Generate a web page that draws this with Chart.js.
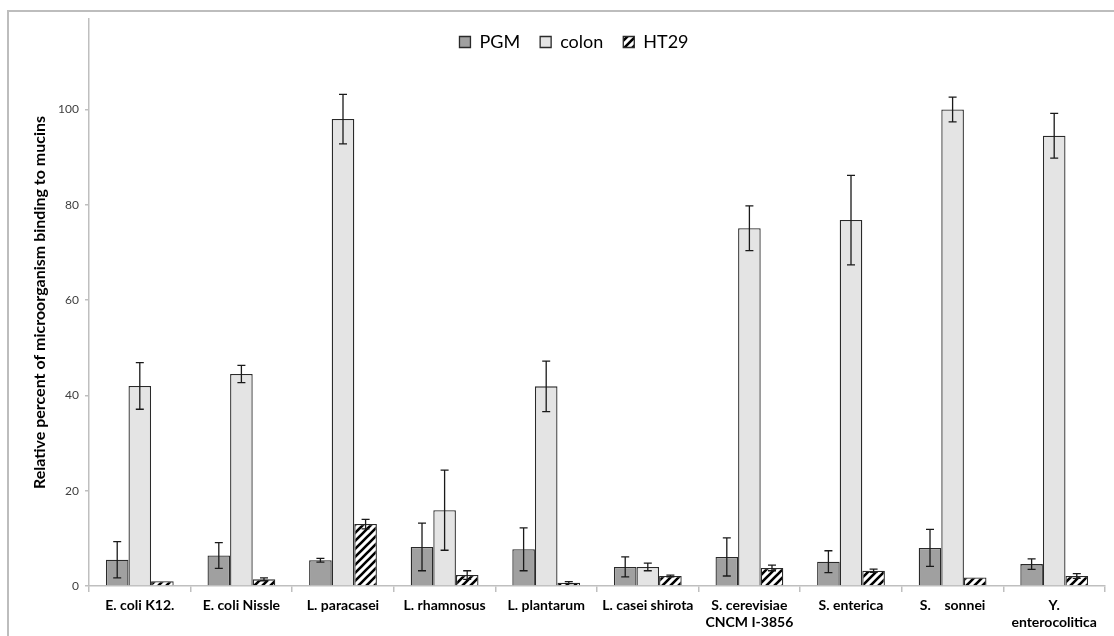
<!DOCTYPE html>
<html>
<head>
<meta charset="utf-8">
<script src="https://cdn.jsdelivr.net/npm/chart.js@4.4.0/dist/chart.umd.min.js"></script>
<style>
  html, body { margin: 0; padding: 0; background: #fff; }
  #wrap { width: 1114px; height: 636px; }
</style>
</head>
<body>
<div id="wrap"><canvas id="myChart" width="1114" height="636"></canvas></div>
<script>
// Chart values
const categories = [
  'E. coli K12.', 'E. coli Nissle', 'L. paracasei', 'L. rhamnosus', 'L. plantarum',
  'L. casei shirota', ['S. cerevisiae', 'CNCM I-3856'], 'S. enterica', 'S.    sonnei',
  ['Y.', 'enterocolitica']
];
const pgmValues   = [5.5, 6.4, 5.4, 8.2, 7.7, 4.0, 6.1, 5.1, 8.0, 4.6];
const pgmErrors   = [3.8, 2.7, 0.4, 5.0, 4.5, 2.1, 4.0, 2.3, 3.9, 1.1];
const colonValues = [42.0, 44.5, 98.0, 15.9, 41.9, 4.0, 75.1, 76.8, 100.0, 94.5];
const colonErrors = [4.9, 1.8, 5.2, 8.4, 5.3, 0.8, 4.7, 9.4, 2.6, 4.7];
const ht29Values  = [1.0, 1.4, 13.0, 2.3, 0.7, 2.1, 3.8, 3.2, 1.8, 2.1];
const ht29Errors  = [0, 0.3, 1.0, 0.9, 0.2, 0.2, 0.6, 0.35, 0, 0.5];
const yTicks = [0, 20, 40, 60, 80, 100];

const FONT = 'Lato, "Open Sans", sans-serif';

// Hatch pattern for HT29
function makeHatch() {
  const c = document.createElement('canvas');
  c.width = 8; c.height = 8;
  const g = c.getContext('2d');
  g.fillStyle = '#fff';
  g.fillRect(0, 0, 8, 8);
  g.strokeStyle = '#000';
  g.lineWidth = 2.6;
  g.beginPath();
  g.moveTo(-2, 10); g.lineTo(10, -2);
  g.moveTo(-6, 6); g.lineTo(6, -6);
  g.moveTo(2, 14); g.lineTo(14, 2);
  g.stroke();
  return g.createPattern(c, 'repeat');
}
const hatch = makeHatch();

// Error bars drawn from the bar elements and y scale
const errorBars = {
  id: 'errorBars',
  afterDatasetsDraw(chart) {
    const ctx = chart.ctx;
    const y = chart.scales.y;
    ctx.save();
    ctx.strokeStyle = '#1a1a1a';
    ctx.lineWidth = 1.3;
    chart.data.datasets.forEach((ds, i) => {
      const meta = chart.getDatasetMeta(i);
      meta.data.forEach((bar, j) => {
        const err = ds.errors[j];
        if (!err) return;
        const v = ds.data[j];
        const top = y.getPixelForValue(v + err);
        const bot = y.getPixelForValue(Math.max(0, v - err));
        ctx.beginPath();
        ctx.moveTo(bar.x, top); ctx.lineTo(bar.x, bot);
        ctx.moveTo(bar.x - 4, top); ctx.lineTo(bar.x + 4, top);
        ctx.moveTo(bar.x - 4, bot); ctx.lineTo(bar.x + 4, bot);
        ctx.stroke();
      });
    });
    ctx.restore();
  }
};

// Outer frame like the spreadsheet chart border
const frame = {
  id: 'frame',
  beforeDraw(chart) {
    const ctx = chart.ctx;
    ctx.save();
    ctx.strokeStyle = '#bdbdbd';
    ctx.lineWidth = 2;
    ctx.beginPath();
    ctx.moveTo(8, 640); ctx.lineTo(8, 11); ctx.lineTo(1114, 11);
    ctx.stroke();
    ctx.restore();
  }
};

// Legend sits inside the plot area but laid out in one row
const legendRow = {
  id: 'legendRow',
  beforeUpdate(chart) {
    if (chart.legend) chart.legend.isHorizontal = () => true;
  },
  afterLayout(chart) {
    const lg = chart.legend;
    if (lg) {
      lg.top -= 6; lg.bottom -= 6;
      lg.left += 66; lg.right += 66;
    }
  }
};

const ctx = document.getElementById('myChart');

let myChart = new Chart(ctx, {
  type: 'bar',
  data: {
    labels: categories,
    datasets: [
      { label: 'PGM', data: pgmValues, errors: pgmErrors, backgroundColor: '#a0a0a0', borderColor: '#2a2a2a', borderWidth: 1.3 },
      { label: 'colon', data: colonValues, errors: colonErrors, backgroundColor: '#e4e4e4', borderColor: '#2a2a2a', borderWidth: 1.3 },
      { label: 'HT29', data: ht29Values, errors: ht29Errors, backgroundColor: hatch, borderColor: '#2a2a2a', borderWidth: 1.3 }
    ]
  },
  options: {
    responsive: false,
    animation: false,
    datasets: { bar: { barPercentage: 1, categoryPercentage: 0.667 } },
    layout: { padding: { top: 19, right: 9, left: 0, bottom: 0 } },
    plugins: {
      legend: {
        position: 'chartArea',
        align: 'center',
        labels: {
          boxWidth: 11, boxHeight: 11, padding: 20,
          color: '#000',
          font: { family: FONT, size: 18 }
        }
      },
      tooltip: { enabled: false }
    },
    scales: {
      x: {
        grid: { drawOnChartArea: false, color: '#bfbfbf', tickLength: 6, lineWidth: 1.5 },
        border: { color: '#bfbfbf', width: 1.5 },
        ticks: {
          color: '#000', maxRotation: 0, autoSkip: false, padding: 5,
          font: { family: FONT, size: 14, weight: 'bold' }
        },
        afterFit(scale) { scale.height = 50; }
      },
      y: {
        min: 0, max: 119,
        grid: { drawOnChartArea: false, color: '#bfbfbf', tickLength: 4, lineWidth: 1.5 },
        border: { color: '#bfbfbf', width: 1.5 },
        afterBuildTicks(scale) { scale.ticks = yTicks.map(v => ({ value: v })); },
        ticks: {
          color: '#404040', padding: 6,
          font: { family: FONT, size: 12 }
        },
        title: {
          display: true,
          text: 'Relative percent of microorganism binding to mucins',
          color: '#000',
          padding: { top: 30, bottom: 0 },
          font: { family: FONT, size: 16, weight: 'bold' }
        },
        afterFit(scale) { scale.width = 89; }
      }
    }
  },
  plugins: [legendRow, errorBars, frame]
});
</script>
</body>
</html>
